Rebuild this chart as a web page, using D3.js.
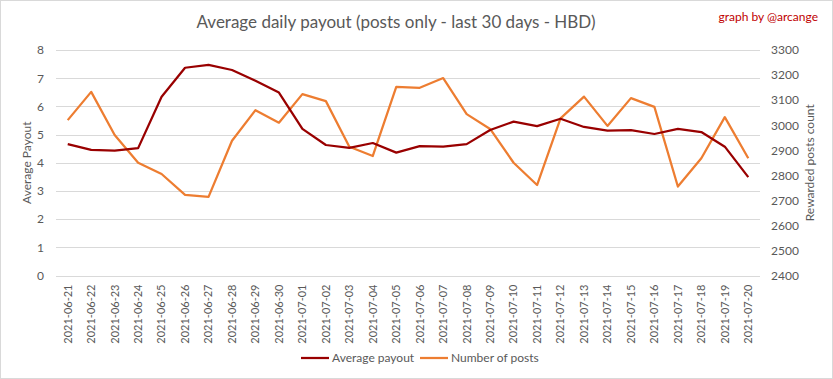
<!DOCTYPE html>
<html lang="en">
<head>
  <meta charset="UTF-8" />
  <title>Average daily payout</title>
  <script src="https://d3js.org/d3.v7.min.js"></script>
  <style>
    body { margin: 0; background: #fff; }
    text { font-family: Lato, "Open Sans", sans-serif; fill: #595959; }
  </style>
</head>
<body>
  <div id="chart"></div>

  <script>
    const dates = [
      "2021-06-21", "2021-06-22", "2021-06-23", "2021-06-24", "2021-06-25",
      "2021-06-26", "2021-06-27", "2021-06-28", "2021-06-29", "2021-06-30",
      "2021-07-01", "2021-07-02", "2021-07-03", "2021-07-04", "2021-07-05",
      "2021-07-06", "2021-07-07", "2021-07-08", "2021-07-09", "2021-07-10",
      "2021-07-11", "2021-07-12", "2021-07-13", "2021-07-14", "2021-07-15",
      "2021-07-16", "2021-07-17", "2021-07-18", "2021-07-19", "2021-07-20"
    ];
    const avgPayout = [
      4.66, 4.46, 4.43, 4.52, 6.34, 7.37, 7.47, 7.29, 6.91, 6.49,
      5.20, 4.63, 4.53, 4.70, 4.36, 4.59, 4.57, 4.66, 5.16, 5.46,
      5.30, 5.56, 5.27, 5.14, 5.16, 5.02, 5.20, 5.09, 4.57, 3.49
    ];
    const numPosts = [
      3020, 3133, 2961, 2850, 2805, 2722, 2714, 2938, 3060, 3010,
      3124, 3096, 2914, 2877, 3153, 3149, 3188, 3044, 2985, 2850,
      2761, 3027, 3114, 2997, 3108, 3073, 2755, 2868, 3032, 2868
    ];
    const leftTicks = [0, 1, 2, 3, 4, 5, 6, 7, 8];
    const rightTicks = [2400, 2500, 2600, 2700, 2800, 2900, 3000, 3100, 3200, 3300];

    const W = 833, H = 379;
    const plot = {left: 56, right: 760, top: 50, bottom: 275.5};

    const svg = d3.select("#chart").append("svg")
      .attr("width", W)
      .attr("height", H);

    // chart border
    svg.append("rect")
      .attr("x", 0.5).attr("y", 0.5)
      .attr("width", W - 1).attr("height", H - 1)
      .attr("fill", "#fff")
      .attr("stroke", "#d9d9d9");

    const x = d3.scaleBand()
      .domain(dates)
      .range([plot.left, plot.right]);

    const yL = d3.scaleLinear().domain([0, 8]).range([plot.bottom, plot.top]);
    const yR = d3.scaleLinear().domain([2400, 3300]).range([plot.bottom, plot.top]);

    // gridlines
    svg.append("g")
      .selectAll("line")
      .data(leftTicks)
      .enter().append("line")
      .attr("x1", plot.left).attr("x2", plot.right)
      .attr("y1", d => Math.round(yL(d)) + 0.5)
      .attr("y2", d => Math.round(yL(d)) + 0.5)
      .attr("stroke", "#d9d9d9");

    // left axis
    const axL = svg.append("g")
      .attr("transform", `translate(${plot.left},0)`)
      .call(d3.axisLeft(yL).tickValues(leftTicks).tickSize(0).tickPadding(12));
    axL.select(".domain").remove();
    axL.selectAll("text").style("font-size", "12px").attr("fill", "#595959");

    // right axis
    const axR = svg.append("g")
      .attr("transform", `translate(${plot.right},0)`)
      .call(d3.axisRight(yR).tickValues(rightTicks).tickFormat(d3.format("d"))
        .tickSize(0).tickPadding(11));
    axR.select(".domain").remove();
    axR.selectAll("text").style("font-size", "12px").attr("fill", "#595959");

    // x axis
    const axX = svg.append("g")
      .attr("transform", `translate(0,${plot.bottom})`)
      .call(d3.axisBottom(x).tickSize(0));
    axX.select(".domain").remove();
    axX.selectAll("text")
      .style("font-size", "11px")
      .attr("fill", "#595959")
      .attr("transform", "rotate(-90)")
      .attr("text-anchor", "end")
      .attr("dy", "0.35em")
      .attr("x", -9)
      .attr("y", 0);

    // lines
    const lineL = d3.line()
      .x((d, i) => x(dates[i]) + x.bandwidth() / 2)
      .y(d => yL(d));
    const lineR = d3.line()
      .x((d, i) => x(dates[i]) + x.bandwidth() / 2)
      .y(d => yR(d));

    svg.append("path")
      .datum(numPosts)
      .attr("fill", "none")
      .attr("stroke", "#ed7d31")
      .attr("stroke-width", 2.25)
      .attr("stroke-linejoin", "round")
      .attr("d", lineR);

    svg.append("path")
      .datum(avgPayout)
      .attr("fill", "none")
      .attr("stroke", "#990000")
      .attr("stroke-width", 2.25)
      .attr("stroke-linejoin", "round")
      .attr("d", lineL);

    // title
    svg.append("text")
      .attr("x", 396)
      .attr("y", 28)
      .attr("text-anchor", "middle")
      .style("font-size", "17px")
      .text("Average daily payout (posts only - last 30 days - HBD)");

    svg.append("text")
      .attr("x", 818)
      .attr("y", 21)
      .attr("text-anchor", "end")
      .style("font-size", "12px")
      .style("fill", "#c00000")
      .text("graph by @arcange");

    // axis titles
    svg.append("text")
      .attr("transform", `translate(31,${(plot.top + plot.bottom) / 2}) rotate(-90)`)
      .attr("text-anchor", "middle")
      .style("font-size", "12px")
      .text("Average Payout");

    svg.append("text")
      .attr("transform", `translate(814,${(plot.top + plot.bottom) / 2}) rotate(-90)`)
      .attr("text-anchor", "middle")
      .style("font-size", "12px")
      .text("Rewarded posts count");

    // legend
    const legend = [
      {name: "Average payout", color: "#990000", x: 301},
      {name: "Number of posts", color: "#ed7d31", x: 420}
    ];
    const lg = svg.append("g").selectAll("g").data(legend).enter().append("g")
      .attr("transform", d => `translate(${d.x},358)`);
    lg.append("line")
      .attr("x1", 0).attr("x2", 28)
      .attr("stroke", d => d.color)
      .attr("stroke-width", 2.25);
    lg.append("text")
      .attr("x", 31)
      .attr("dy", "0.35em")
      .style("font-size", "12px")
      .text(d => d.name);
  </script>
</body>
</html>
